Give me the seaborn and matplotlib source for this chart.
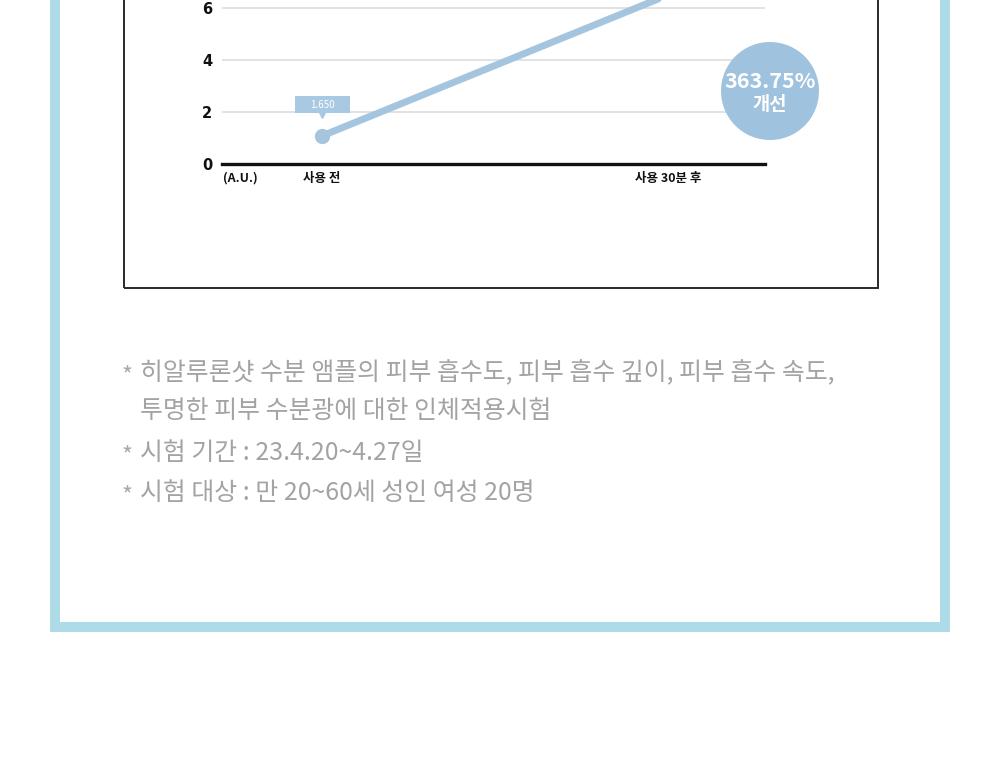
import pandas as pd
import seaborn as sns
import matplotlib.pyplot as plt
from matplotlib.patches import Rectangle, Circle
from matplotlib.transforms import IdentityTransform

# data
stages = ['사용 전', '사용 30분 후']
values = [1.08, 6.5]
value_label = '1.650'
improve_text = '363.75%'
improve_sub = '개선'
y_ticks = [0, 2, 4, 6]
notes = [
    '히알루론샷 수분 앰플의 피부 흡수도, 피부 흡수 깊이, 피부 흡수 속도,',
    '투명한 피부 수분광에 대한 인체적용시험',
    '시험 기간 : 23.4.20~4.27일',
    '시험 대상 : 만 20~60세 성인 여성 20명',
]
note_star = [True, False, True, True]

sns.set_theme(style='white')
plt.rcParams['font.family'] = ['Noto Sans CJK KR', 'DejaVu Sans']

W, H = 1000, 758
fig = plt.figure(figsize=(10, 7.58), dpi=100)

def fx(px):
    return px / W

def fy(py):
    return 1 - py / H

# light blue outer frame + white inside (tops run off the picture)
fig.add_artist(Rectangle((fx(50), fy(632)), fx(900), 632 / H + 0.1,
                         transform=fig.transFigure, fc='#aedbe8', ec='none', zorder=-3))
fig.add_artist(Rectangle((fx(60), fy(622)), fx(880), 622 / H + 0.1,
                         transform=fig.transFigure, fc='white', ec='none', zorder=-2))
# black box around chart
fig.add_artist(Rectangle((fx(124), fy(288)), fx(754), 288 / H + 0.1,
                         transform=fig.transFigure, fc='none', ec='#2a2a2a', lw=1.4, zorder=-1))

# axes: y=0 at pixel 164, 26 px per unit
ymax = 7
ax = fig.add_axes([fx(222), fy(164), fx(543), ymax * 26 / H])
ax.patch.set_alpha(0)

df = pd.DataFrame({'stage': stages, 'value': values})
sns.lineplot(data=df, x='stage', y='value', sort=False, ax=ax, color='#a5c5df',
             lw=5, marker='o', markersize=11, markeredgewidth=0, markevery=[0], zorder=3)

ax.set_xlim(-100 / 346, 1 + 97 / 346)
ax.set_ylim(0, ymax)
ax.set_yticks(y_ticks)
ax.set_yticklabels([str(t) for t in y_ticks], fontweight='bold', fontsize=10.5, color='#111',
                   family=['DejaVu Sans'])
ax.tick_params(axis='y', length=0, pad=7)
ax.tick_params(axis='x', length=0, pad=6)
for lab in ax.get_xticklabels():
    lab.set_fontweight('bold')
    lab.set_fontsize(9)
    lab.set_color('#111')
ax.set_xlabel('')
ax.set_ylabel('')
ax.grid(axis='y', color='#dddddd', lw=1.2)
ax.grid(axis='x', visible=False)
for s in ['top', 'left', 'right']:
    ax.spines[s].set_visible(False)
ax.spines['bottom'].set_color('#111')
ax.spines['bottom'].set_linewidth(2.4)

fig.text(fx(240), fy(178), '(A.U.)', ha='center', va='center', fontsize=9,
         fontweight='bold', color='#111')

# value callout
ax.add_patch(Rectangle(((295 - 322) / 346, (164 - 113) / 26), 55 / 346, 17 / 26,
                       fc='#a9c9e2', ec='none', zorder=4))
ax.plot([0], [(164 - 115) / 26], marker='v', color='#a9c9e2', markersize=4, zorder=4)
ax.text(0, (164 - 104.5) / 26, value_label, ha='center', va='center', fontsize=7,
        color='white', zorder=5)

# improvement bubble
fig.add_artist(Circle((770, H - 91), 49, transform=IdentityTransform(),
                      fc='#9fc2de', ec='none', zorder=5))
fig.text(fx(770), fy(81), improve_text, ha='center', va='center', fontsize=15.5,
         fontweight='bold', color='white', zorder=6)
fig.text(fx(770), fy(105), improve_sub, ha='center', va='center', fontsize=13.5,
         fontweight='bold', color='white', zorder=6)

# notes
note_y = [373, 411, 453, 493]
for txt, star, yy in zip(notes, note_star, note_y):
    if star:
        fig.text(fx(127), fy(yy + 3), '*', ha='center', va='center', fontsize=17, color='#aaaaaa')
    fig.text(fx(140), fy(yy), txt, ha='left', va='center', fontsize=17.9, color='#a3a3a3')

fig.savefig('out.png', dpi=100)
